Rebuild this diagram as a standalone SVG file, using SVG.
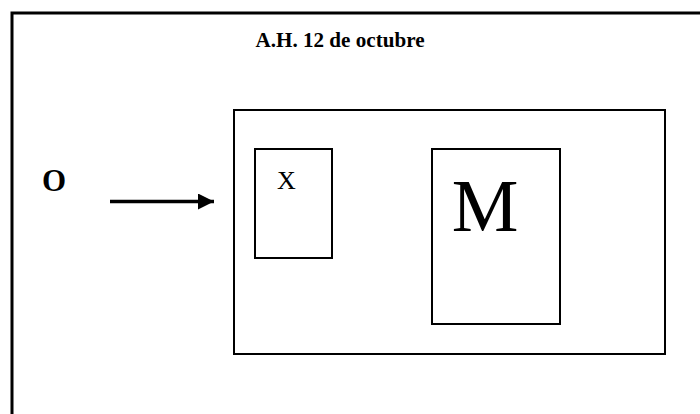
<svg xmlns="http://www.w3.org/2000/svg" width="700" height="414" viewBox="0 0 700 414">
<style>
.box{fill:none;stroke:#000;stroke-width:2}
.t{font-family:"Liberation Serif","Times New Roman",serif;fill:#000}
</style>
<defs>
<marker id="ah" markerWidth="16" markerHeight="16" refX="16" refY="8" orient="auto" markerUnits="userSpaceOnUse">
<path d="M0,0 L16,8 L0,16 Z" fill="#000"/>
</marker>
</defs>
<rect width="700" height="414" fill="#fff"/>
<g id="frame">
<path d="M12,430 L12,13 L710,13" fill="none" stroke="#000" stroke-width="3"/>
<text class="t" x="340" y="47" font-size="21" font-weight="bold" text-anchor="middle" textLength="169" lengthAdjust="spacingAndGlyphs">A.H. 12 de octubre</text>
</g>
<g id="node-O">
<text class="t" x="54" y="191" font-size="31" font-weight="bold" text-anchor="middle">O</text>
</g>
<g id="node-outer">
<rect class="box" x="234" y="110" width="431" height="244" stroke-width="2.5"/>
</g>
<g id="node-X">
<rect class="box" x="255" y="149" width="77" height="109"/>
<text class="t" x="286.5" y="189" font-size="26" text-anchor="middle">X</text>
</g>
<g id="node-M">
<rect class="box" x="432" y="149" width="128" height="175"/>
<text class="t" x="485" y="231" font-size="75" text-anchor="middle">M</text>
</g>
<g id="connectors">
<line x1="110" y1="201.5" x2="214" y2="201.5" stroke="#000" stroke-width="3.5" marker-end="url(#ah)"/>
</g>
</svg>
